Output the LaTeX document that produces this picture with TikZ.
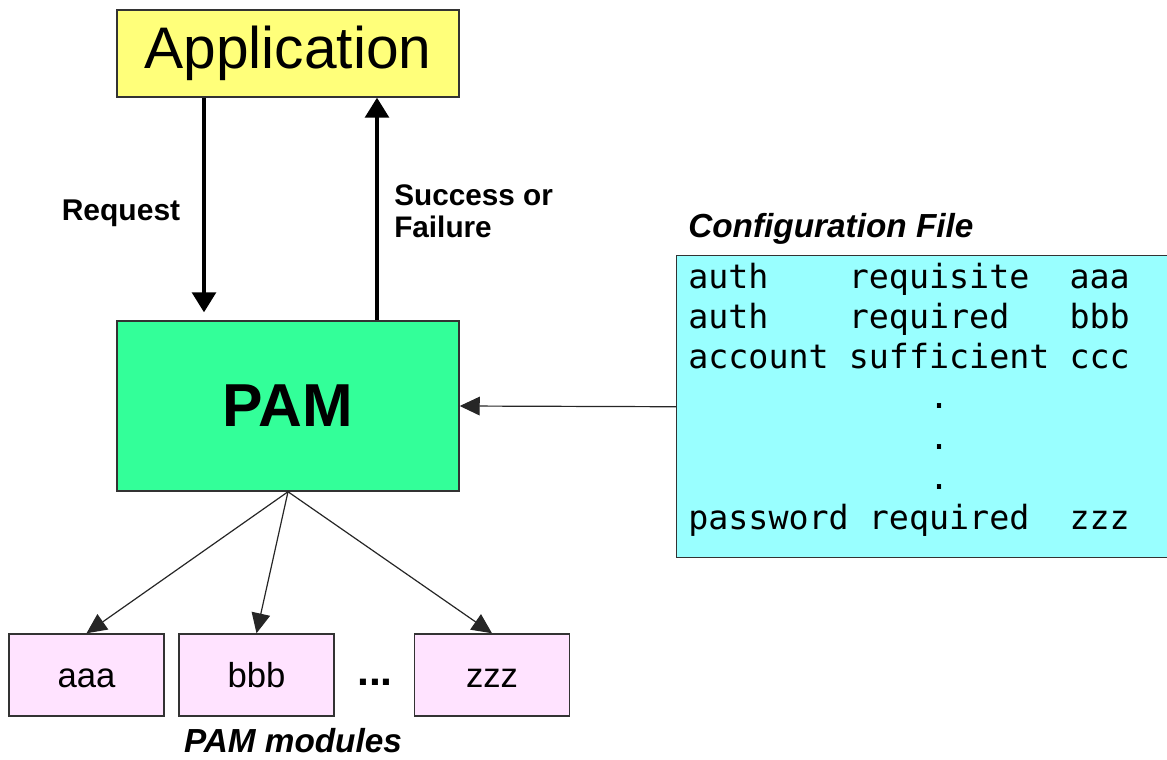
\documentclass[tikz,border=0pt]{standalone}
\usepackage{fontspec}
\setmainfont{Liberation Sans}
\setmonofont{DejaVu Sans Mono}
\usetikzlibrary{arrows.meta,calc}

\definecolor{appyellow}{HTML}{FFFF7A}
\definecolor{pamgreen}{HTML}{33FF99}
\definecolor{cfgcyan}{HTML}{99FFFF}
\definecolor{modpink}{HTML}{FFE3FF}
\definecolor{edge}{HTML}{333333}

\newcommand{\fs}[1]{\fontsize{#1}{1.2\dimexpr#1\relax}\selectfont}

\tikzset{
  box/.style={draw=edge, line width=1.1pt, rectangle, inner sep=0pt},
  bigarrow/.style={line width=2.3pt, -{Triangle[length=15pt,width=18pt]}},
  thinarrow/.style={line width=0.9pt, draw=black!85, -{Triangle[length=15pt,width=14pt]}},
  label/.style={font=\bfseries\fs{22.5pt}, inner sep=0pt},
  cfgline/.style={anchor=base west, inner sep=0pt, font=\ttfamily\fs{25pt}},
}

\begin{document}
\begin{tikzpicture}[x=0.75pt, y=-0.75pt]
  \useasboundingbox (0,0) rectangle (1167,760);

  % main blocks
  \node[box, fill=appyellow, minimum width=342*0.75pt, minimum height=87*0.75pt,
        font=\fs{44pt}] (app) at (288,53.5) {Application};
  \node[box, fill=pamgreen, minimum width=342*0.75pt, minimum height=170*0.75pt,
        font=\bfseries\fs{45.5pt}] (pam) at (288,406) {PAM};

  % configuration file (runs off the right edge)
  \begin{scope}
    \clip (0,0) rectangle (1167,760);
    \node[box, fill=cfgcyan, anchor=north west, minimum width=520*0.75pt,
          minimum height=302*0.75pt] (cfg) at (676,255) {};
  \end{scope}
  \node[font=\bfseries\itshape\fs{25pt}, anchor=west, inner sep=0pt] (cfgtitle) at (688,229) {Configuration File};
  \node[cfgline] (c1) at (688,288.0) {auth~~~~requisite~~aaa};
  \node[cfgline] (c2) at (688,328.3) {auth~~~~required~~~bbb};
  \node[cfgline] (c3) at (688,368.6) {account~sufficient~ccc};
  \node[cfgline] (c4) at (688,408.9) {~~~~~~~~~~~~.};
  \node[cfgline] (c5) at (688,449.2) {~~~~~~~~~~~~.};
  \node[cfgline] (c6) at (688,489.5) {~~~~~~~~~~~~.};
  \node[cfgline] (c7) at (688,529.8) {password~required~~zzz};

  % modules
  \tikzset{modbox/.style={box, fill=modpink, minimum width=155*0.75pt,
           minimum height=82*0.75pt, font=\fs{26pt}, text height=19pt, text depth=0pt}}
  \node[modbox] (aaa) at (86.5,675) {aaa};
  \node[modbox] (bbb) at (256.5,675) {bbb};
  \node[modbox] (zzz) at (492,675) {zzz};
  \node[font=\bfseries\fs{32pt}, inner sep=0pt] (dots) at (375,682) {...};
  \node[font=\bfseries\itshape\fs{25pt}, inner sep=0pt, anchor=base] (modlabel) at (293,752) {PAM modules};

  % labels
  \node[label] (req) at (121,213) {Request};
  \node[label, anchor=west, align=left, font=\bfseries\fontsize{22.3pt}{24pt}\selectfont] (succ) at (394,211) {Success or\\Failure};

  % connectors
  \draw[bigarrow, shorten >=6pt] ($(app.south)+(-84,0)$) -- ($(pam.north)+(-84,0)$);
  \draw[bigarrow] ($(pam.north)+(89,0)$) -- ($(app.south)+(89,0)$);
  \draw[thinarrow] (cfg.west) -- (pam.east);
  \draw[thinarrow] (pam.south) -- (aaa.north);
  \draw[thinarrow] (pam.south) -- (bbb.north);
  \draw[thinarrow] (pam.south) -- (zzz.north);
\end{tikzpicture}
\end{document}
